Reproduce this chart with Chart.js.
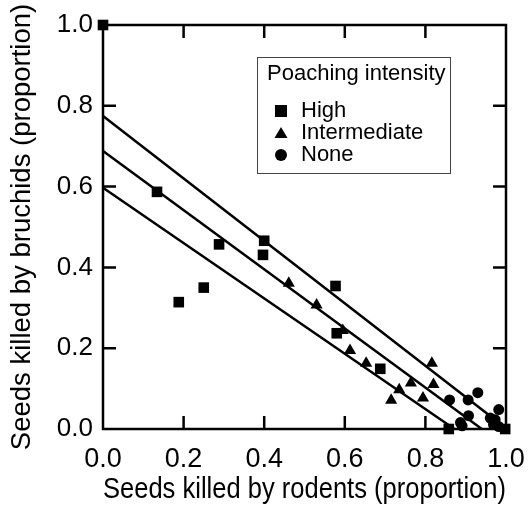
<!DOCTYPE html>
<html lang="en">
<head>
    <meta charset="UTF-8">
    <title>Seeds killed by rodents vs bruchids</title>
    <script src="https://cdn.jsdelivr.net/npm/chart.js"></script>
    <style>
        body { margin: 0; background: #fff; }
        #wrap { width: 528px; height: 508px; }
    </style>
</head>
<body>
    <div id="wrap"><canvas id="seedChart" width="528" height="508"></canvas></div>

    <script>
        // values (proportions)
        const highX = [0.0, 0.134, 0.188, 0.25, 0.288, 0.40, 0.397, 0.577, 0.58, 0.688, 0.858, 0.998];
        const highY = [1.0, 0.587, 0.314, 0.35, 0.457, 0.466, 0.431, 0.354, 0.237, 0.149, 0.0, 0.0];

        const interX = [0.461, 0.530, 0.595, 0.613, 0.653, 0.715, 0.735, 0.764, 0.794, 0.816, 0.82];
        const interY = [0.361, 0.307, 0.244, 0.194, 0.163, 0.071, 0.097, 0.114, 0.077, 0.163, 0.11];

        const noneX = [0.86, 0.887, 0.891, 0.906, 0.907, 0.93, 0.961, 0.973, 0.969, 0.982, 0.982];
        const noneY = [0.072, 0.016, 0.008, 0.072, 0.033, 0.09, 0.027, 0.023, 0.011, 0.048, 0.006];

        // fitted lines, start and end
        const fitHighX = [0.0, 0.872];
        const fitHighY = [0.597, 0.0];
        const fitInterX = [0.0, 0.94];
        const fitInterY = [0.688, 0.0];
        const fitNoneX = [0.0, 1.0];
        const fitNoneY = [0.775, 0.002];

        const tickValues = [0.0, 0.2, 0.4, 0.6, 0.8, 1.0];
        const legendTitle = 'Poaching intensity';
        const legendLabels = ['High', 'Intermediate', 'None'];
        const legendShapes = ['rect', 'triangle', 'circle'];

        const FONT = "'Liberation Sans', Arial, sans-serif";

        function pts(xs, ys) {
            return xs.map((x, i) => ({ x: x, y: ys[i] }));
        }

        function fitLine(xs, ys) {
            return {
                data: pts(xs, ys),
                showLine: true,
                borderColor: '#000',
                borderWidth: 2.5,
                pointRadius: 0,
                clip: false
            };
        }

        function markers(xs, ys, style, r) {
            return {
                data: pts(xs, ys),
                pointStyle: style,
                pointRadius: r,
                backgroundColor: '#000',
                borderColor: '#000',
                borderWidth: 0,
                clip: false
            };
        }

        // box, inward ticks and the legend
        const framePlugin = {
            id: 'frame',
            afterDatasetsDraw(chart) {
                const ctx = chart.ctx;
                const a = chart.chartArea;
                const xs = chart.scales.x, ys = chart.scales.y;
                const len = 13;
                ctx.save();
                ctx.strokeStyle = '#000';
                ctx.lineWidth = 2.5;
                ctx.strokeRect(a.left, a.top, a.right - a.left, a.bottom - a.top);
                ctx.beginPath();
                tickValues.slice(1, -1).forEach(v => {
                    const px = xs.getPixelForValue(v);
                    ctx.moveTo(px, a.bottom); ctx.lineTo(px, a.bottom - len);
                    ctx.moveTo(px, a.top); ctx.lineTo(px, a.top + len);
                    const py = ys.getPixelForValue(v);
                    ctx.moveTo(a.left, py); ctx.lineTo(a.left + len, py);
                    ctx.moveTo(a.right, py); ctx.lineTo(a.right - len, py);
                });
                ctx.stroke();

                // legend
                const bx = 257.5, by = 57.5, bw = 193, bh = 116;
                ctx.lineWidth = 1;
                ctx.strokeStyle = '#444';
                ctx.fillStyle = '#fff';
                ctx.fillRect(bx, by, bw, bh);
                ctx.strokeRect(bx, by, bw, bh);
                ctx.fillStyle = '#000';
                ctx.font = '22px ' + FONT;
                ctx.textBaseline = 'middle';
                ctx.fillText(legendTitle, 267, 74);
                const rowY = [111, 133, 155];
                legendLabels.forEach((lab, i) => {
                    const cy = rowY[i], cx = 281;
                    ctx.beginPath();
                    if (legendShapes[i] === 'rect') {
                        ctx.rect(cx - 6, cy - 6, 12, 12);
                    } else if (legendShapes[i] === 'triangle') {
                        ctx.moveTo(cx, cy - 6);
                        ctx.lineTo(cx + 6.5, cy + 5);
                        ctx.lineTo(cx - 6.5, cy + 5);
                        ctx.closePath();
                    } else {
                        ctx.arc(cx, cy, 6, 0, Math.PI * 2);
                    }
                    ctx.fill();
                    ctx.fillText(lab, 301, cy);
                });
                ctx.restore();
            }
        };

        const ctx = document.getElementById('seedChart').getContext('2d');
        new Chart(ctx, {
            type: 'scatter',
            data: {
                datasets: [
                    fitLine(fitHighX, fitHighY),
                    fitLine(fitInterX, fitInterY),
                    fitLine(fitNoneX, fitNoneY),
                    markers(highX, highY, 'rect', 7.5),
                    markers(interX, interY, 'triangle', 7),
                    markers(noneX, noneY, 'circle', 5.5)
                ]
            },
            options: {
                responsive: false,
                animation: false,
                layout: { padding: { top: 25, right: 22, left: 0, bottom: 0 } },
                plugins: {
                    legend: { display: false },
                    tooltip: { enabled: false }
                },
                scales: {
                    x: {
                        type: 'linear',
                        min: 0,
                        max: 1,
                        afterFit(scale) {
                            scale.height = 79;
                            scale.paddingLeft = 0;
                            scale.paddingRight = 0;
                        },
                        afterBuildTicks(scale) { scale.ticks = tickValues.map(v => ({ value: v })); },
                        ticks: {
                            color: '#000',
                            font: { family: FONT, size: 27 },
                            padding: 14,
                            callback: v => v.toFixed(1)
                        },
                        grid: { drawOnChartArea: false, drawTicks: false },
                        border: { display: false },
                        title: {
                            display: true,
                            text: 'Seeds killed by rodents (proportion)',
                            color: '#000',
                            font: { family: FONT, size: 30 },
                            padding: { top: 0, bottom: 0 }
                        }
                    },
                    y: {
                        type: 'linear',
                        min: 0,
                        max: 1,
                        afterFit(scale) {
                            scale.width = 103;
                            scale.paddingTop = 0;
                            scale.paddingBottom = 0;
                        },
                        afterBuildTicks(scale) { scale.ticks = tickValues.map(v => ({ value: v })); },
                        ticks: {
                            color: '#000',
                            font: { family: FONT, size: 26 },
                            padding: 10,
                            callback: v => v.toFixed(1)
                        },
                        grid: { drawOnChartArea: false, drawTicks: false },
                        border: { display: false },
                        title: {
                            display: true,
                            text: 'Seeds killed by bruchids (proportion)',
                            color: '#000',
                            font: { family: FONT, size: 27.5 },
                            padding: { top: 6, bottom: 0 }
                        }
                    }
                }
            },
            plugins: [framePlugin]
        });
    </script>
</body>
</html>
